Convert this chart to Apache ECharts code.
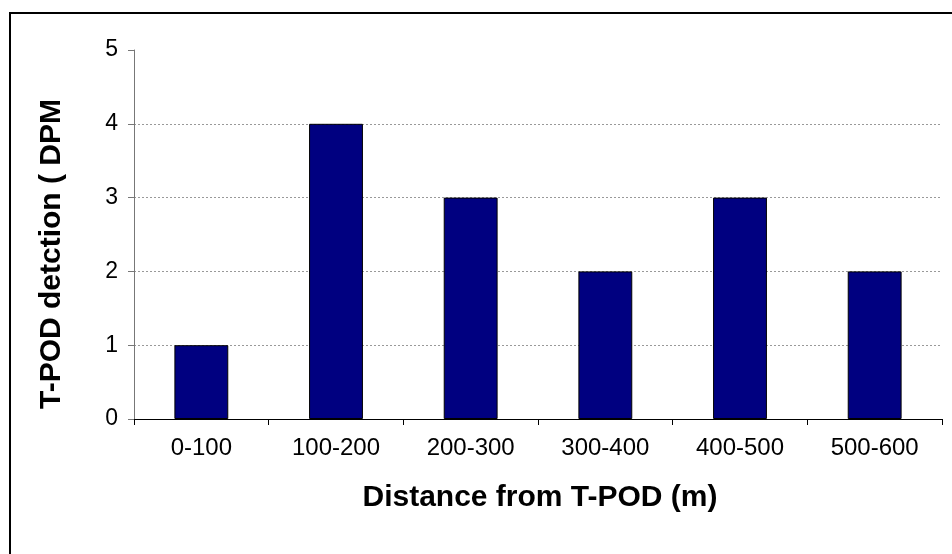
<!DOCTYPE html>
<html>
<head>
<meta charset="utf-8">
<script src="https://cdn.jsdelivr.net/npm/echarts@6/dist/echarts.min.js"></script>
<style>
  html, body { margin: 0; padding: 0; background: #fff; }
  #chart { width: 952px; height: 554px; }
</style>
</head>
<body>
<div id="chart"></div>
<script>
  var categories = ['0-100', '100-200', '200-300', '300-400', '400-500', '500-600']
  var detections = [1, 4, 3, 2, 3, 2]
  var xTitle = 'Distance from T-POD (m)'
  var yTitle = 'T-POD detction ( DPM'

  var font = '"Liberation Sans", Arial, sans-serif'
  var chart = echarts.init(document.getElementById('chart'))

  var option = {
    animation: false,
    backgroundColor: '#fff',
    grid: { left: 134, right: 10, top: 50, bottom: 135 },
    xAxis: {
      type: 'category',
      data: categories,
      axisLine: { lineStyle: { color: '#000', width: 1 } },
      axisTick: { show: true, length: 6, alignWithLabel: false, lineStyle: { color: '#000' } },
      axisLabel: { color: '#000', fontFamily: font, fontSize: 24, margin: 17 },
      splitLine: { show: false }
    },
    yAxis: {
      type: 'value',
      min: 0,
      max: 5,
      interval: 1,
      axisLine: { show: true, lineStyle: { color: '#777', width: 1 } },
      axisTick: { show: true, length: 6, lineStyle: { color: '#777' } },
      axisLabel: { color: '#000', fontFamily: font, fontSize: 23, margin: 16 },
      splitLine: {
        show: true,
        lineStyle: {
          color: ['rgba(0,0,0,0)', '#999', '#999', '#999', '#999', 'rgba(0,0,0,0)'],
          type: [2, 2],
          width: 1
        }
      }
    },
    series: [{
      type: 'bar',
      data: detections,
      barWidth: '40%',
      itemStyle: { color: '#000080', borderColor: '#000', borderWidth: 1 }
    }],
    graphic: [
      {
        type: 'polyline',
        shape: { points: [[10, 554], [10, 13], [952, 13]] },
        style: { stroke: '#000', lineWidth: 2, fill: null }
      },
      {
        type: 'text',
        x: 540,
        y: 498,
        style: {
          text: xTitle,
          font: 'bold 30px ' + font,
          fill: '#000',
          textAlign: 'center',
          textVerticalAlign: 'middle'
        }
      },
      {
        type: 'text',
        x: 52,
        y: 254,
        rotation: Math.PI / 2,
        style: {
          text: yTitle,
          font: 'bold 30px ' + font,
          fill: '#000',
          textAlign: 'center',
          textVerticalAlign: 'middle'
        }
      }
    ]
  }
  chart.setOption(option)
</script>
</body>
</html>
